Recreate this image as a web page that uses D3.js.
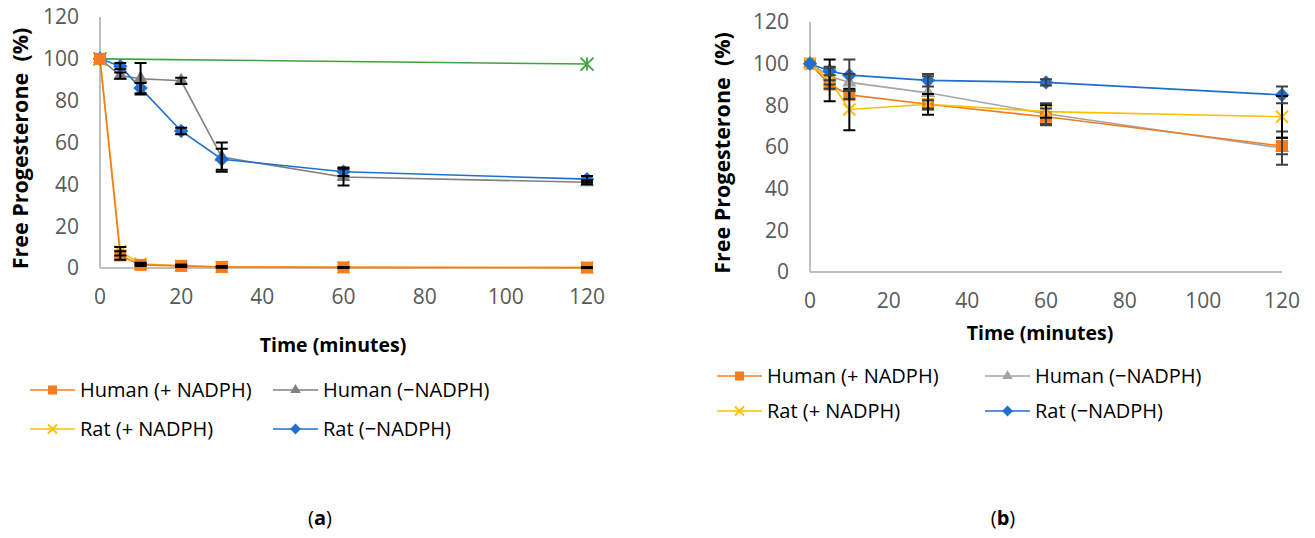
<!DOCTYPE html>
<html>
<head>
<meta charset="utf-8">
<script src="https://cdn.jsdelivr.net/npm/d3@7"></script>
<style>
  body { margin: 0; background: #fff; }
  svg text { font-family: "Open Sans", "Noto Sans", sans-serif; }
</style>
</head>
<body>
<svg id="chart" width="1315" height="538"></svg>
<script>
// ---- data, panel (a) ----
const timesA = [0, 5, 10, 20, 30, 60, 120];
const humanPlusA = [100, 6, 1.5, 1, 0.5, 0.3, 0.2];
const humanPlusErrA = [0, 2, 0.5, 0.5, 0.3, 0.2, 0.2];
const humanMinusA = [100, 92, 90.5, 89.5, 53, 43.5, 41];
const humanMinusErrA = [0, 1.5, 7.5, 1.5, 7, 4, 1];
const ratPlusA = [100, 8, 2, 1, 0.5, 0.3, 0.2];
const ratPlusErrA = [0, 2, 0.5, 0.5, 0.3, 0.2, 0.2];
const ratMinusA = [100, 96.5, 86, 65.5, 52, 46, 42.5];
const ratMinusErrA = [0, 1.5, 2.5, 1.5, 5, 2, 1.5];
const controlTimesA = [0, 120];
const controlA = [100, 97.5];

// ---- data, panel (b) ----
const timesB = [0, 5, 10, 30, 60, 120];
const humanPlusB = [100, 90, 85, 80.5, 74.5, 60.5];
const humanPlusErrB = [0, 2, 2, 2, 4, 4];
const humanMinusB = [100, 94, 91, 86, 76, 59.5];
const humanMinusErrB = [0, 4, 4, 8, 5, 8];
const ratPlusB = [100, 92, 78, 80.5, 77, 74.5];
const ratPlusErrB = [0, 10, 10, 5, 3, 10];
const ratMinusB = [100, 96.5, 94.5, 92, 91, 85];
const ratMinusErrB = [0, 2, 7.5, 3, 1.5, 4];

const yTicks = [0, 20, 40, 60, 80, 100, 120];
const xTicks = [0, 20, 40, 60, 80, 100, 120];
const legendNames = ["Human (+ NADPH)", "Human (\u2212NADPH)", "Rat (+ NADPH)", "Rat (\u2212NADPH)"];

const svg = d3.select("#chart");

function marker(g, type, x, y, s, color) {
  if (type === "square") {
    g.append("rect").attr("x", x - s / 2).attr("y", y - s / 2).attr("width", s).attr("height", s).attr("fill", color);
  } else if (type === "triangle") {
    g.append("path").attr("d", d3.symbol(d3.symbolTriangle, s * s * 0.6)()).attr("transform", `translate(${x},${y})`).attr("fill", color);
  } else if (type === "diamond") {
    const h = s * 0.6;
    g.append("path").attr("d", `M${x},${y - h}L${x + h},${y}L${x},${y + h}L${x - h},${y}Z`).attr("fill", color);
  } else if (type === "x") {
    const h = s / 2;
    g.append("path").attr("d", `M${x - h},${y - h}L${x + h},${y + h}M${x - h},${y + h}L${x + h},${y - h}`)
      .attr("stroke", color).attr("stroke-width", 2).attr("fill", "none");
  } else if (type === "star") {
    const h = s / 2;
    g.append("path").attr("d", `M${x - h},${y - h}L${x + h},${y + h}M${x - h},${y + h}L${x + h},${y - h}M${x},${y - h}L${x},${y + h}`)
      .attr("stroke", color).attr("stroke-width", 1.8).attr("fill", "none");
  }
}

function drawPanel(p) {
  const x = d3.scaleLinear().domain([0, 120]).range([p.x0, p.x1]);
  const y = d3.scaleLinear().domain([0, 120]).range([p.y0, p.y1]);
  const g = svg.append("g");

  // axes
  g.append("line").attr("x1", p.x0).attr("x2", p.x0).attr("y1", y(120)).attr("y2", y(0))
    .attr("stroke", "#bfbfbf").attr("stroke-width", 2);
  g.append("line").attr("x1", p.x0).attr("x2", p.x1).attr("y1", y(0)).attr("y2", y(0))
    .attr("stroke", "#bfbfbf").attr("stroke-width", 2);

  g.selectAll(".yt").data(yTicks).enter().append("text")
    .attr("x", p.x0 - 21).attr("y", d => y(d)).attr("dy", "0.35em")
    .attr("text-anchor", "end").attr("font-size", 21).attr("fill", "#595959").text(d => d);
  g.selectAll(".xt").data(xTicks).enter().append("text")
    .attr("x", d => x(d)).attr("y", y(0) + 36)
    .attr("text-anchor", "middle").attr("font-size", 21).attr("fill", "#595959").text(d => d);

  g.append("text").attr("transform", `translate(${p.yLabelX},${(y(0) + y(120)) / 2 + 6}) rotate(-90)`)
    .attr("text-anchor", "middle").attr("dy", "0.35em").attr("font-size", 21.5).attr("font-weight", "bold")
    .attr("xml:space", "preserve").text("Free Progesterone  (%)");
  g.append("text").attr("x", p.xLabelX).attr("y", p.xLabelY)
    .attr("text-anchor", "middle").attr("font-size", 19.5).attr("font-weight", "bold").text("Time (minutes)");

  const line = d3.line().x(d => x(d[0])).y(d => y(d[1]));

  // lines
  p.series.forEach(s => {
    const pts = s.times.map((t, i) => [t, s.values[i]]);
    g.append("path").datum(pts).attr("d", line).attr("fill", "none")
      .attr("stroke", s.color).attr("stroke-width", 1.6);
  });
  // markers
  p.series.forEach(s => {
    s.times.forEach((t, i) => marker(g, s.shape, x(t), y(s.values[i]), s.size || 12, s.color));
  });
  // error bars
  p.series.forEach(s => {
    if (!s.err) return;
    s.times.forEach((t, i) => {
      const e = s.err[i];
      if (!e) return;
      const cx = x(t), top = y(s.values[i] + e), bot = y(Math.max(0, s.values[i] - e));
      g.append("path").attr("d", `M${cx},${top}L${cx},${bot}M${cx - 6},${top}L${cx + 6},${top}M${cx - 6},${bot}L${cx + 6},${bot}`)
        .attr("stroke", s.errColor).attr("stroke-width", 2).attr("fill", "none");
    });
  });

  // legend
  p.series.filter(s => s.legend !== undefined).forEach(s => {
    const col = s.legend % 2, row = Math.floor(s.legend / 2);
    const lx = p.legX[col], ly = p.legY[row];
    g.append("line").attr("x1", lx).attr("x2", lx + 45).attr("y1", ly).attr("y2", ly)
      .attr("stroke", s.color).attr("stroke-width", 1.6);
    marker(g, s.shape, lx + 22.5, ly, 9, s.color);
    g.append("text").attr("x", lx + 50).attr("y", ly).attr("dy", "0.35em")
      .attr("font-size", 20).attr("fill", "#000").text(legendNames[s.legend]);
  });

  g.append("text").attr("x", p.tagX).attr("y", 518).attr("text-anchor", "middle").attr("dy", "0.35em")
    .attr("font-size", 20).attr("font-family", "Liberation Serif, serif")
    .html(`(<tspan font-weight="bold">${p.tag}</tspan>)`);
}

drawPanel({
  x0: 100, x1: 587, y0: 268, y1: 17, yLabelX: 20, xLabelX: 333, xLabelY: 352,
  legX: [30, 273], legY: [390, 429], tag: "a", tagX: 320,
  series: [
    { times: controlTimesA, values: controlA, color: "#3ea33e", shape: "star", size: 13 },
    { times: timesA, values: humanMinusA, err: humanMinusErrA, errColor: "#000", color: "#808080", shape: "triangle", legend: 1 },
    { times: timesA, values: ratMinusA, err: ratMinusErrA, errColor: "#000", color: "#1f6fcf", shape: "diamond", legend: 3 },
    { times: timesA, values: ratPlusA, err: ratPlusErrA, errColor: "#000", color: "#ffc000", shape: "x", legend: 2 },
    { times: timesA, values: humanPlusA, err: humanPlusErrA, errColor: "#000", color: "#f47c20", shape: "square", legend: 0 }
  ]
});

drawPanel({
  x0: 810, x1: 1282, y0: 272, y1: 22, yLabelX: 722, xLabelX: 1040, xLabelY: 340,
  legX: [717, 985], legY: [376, 411], tag: "b", tagX: 1003,
  series: [
    { times: timesB, values: humanMinusB, err: humanMinusErrB, errColor: "#404040", color: "#a5a5a5", shape: "triangle", legend: 1 },
    { times: timesB, values: humanPlusB, err: humanPlusErrB, errColor: "#404040", color: "#f47c20", shape: "square", legend: 0 },
    { times: timesB, values: ratPlusB, err: ratPlusErrB, errColor: "#000", color: "#ffc000", shape: "x", legend: 2 },
    { times: timesB, values: ratMinusB, err: ratMinusErrB, errColor: "#404040", color: "#1f6fcf", shape: "diamond", legend: 3 }
  ]
});
</script>
</body>
</html>
